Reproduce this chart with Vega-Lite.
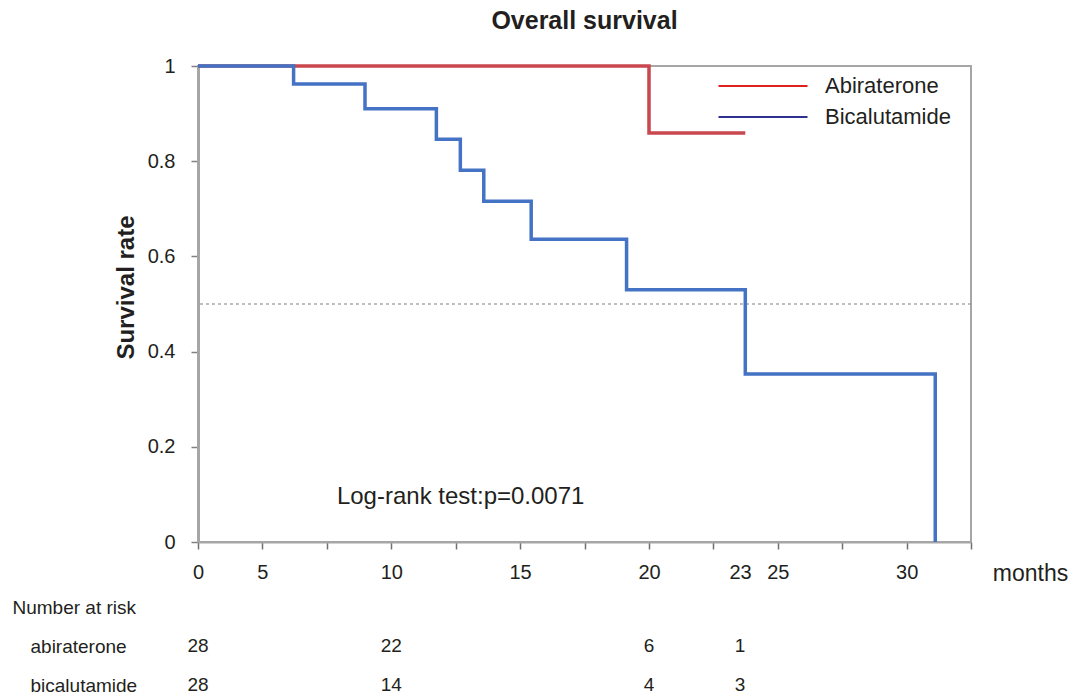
{
  "$schema": "https://vega.github.io/schema/vega-lite/v6.json",
  "background": "white",
  "padding": {"left": 12, "top": 8, "right": 0, "bottom": 0},
  "config": {
    "font": "Liberation Sans",
    "view": {"stroke": "#a6a6a6", "strokeWidth": 2},
    "axis": {"labelFont": "Liberation Sans", "titleFont": "Liberation Sans", "labelColor": "#231f20", "titleColor": "#231f20"}
  },
  "datasets": {
    "km": [
      {"group": "Abiraterone", "month": 0, "survival": 1},
      {"group": "Abiraterone", "month": 20, "survival": 0.859},
      {"group": "Abiraterone", "month": 23.28, "survival": 0.859},
      {"group": "Bicalutamide", "month": 0, "survival": 1},
      {"group": "Bicalutamide", "month": 6.21, "survival": 0.962},
      {"group": "Bicalutamide", "month": 8.98, "survival": 0.91},
      {"group": "Bicalutamide", "month": 11.75, "survival": 0.846},
      {"group": "Bicalutamide", "month": 12.68, "survival": 0.781},
      {"group": "Bicalutamide", "month": 13.59, "survival": 0.716},
      {"group": "Bicalutamide", "month": 15.43, "survival": 0.636},
      {"group": "Bicalutamide", "month": 19.13, "survival": 0.53},
      {"group": "Bicalutamide", "month": 23.28, "survival": 0.353},
      {"group": "Bicalutamide", "month": 31.11, "survival": 0}
    ],
    "risk": [
      {"row": "abiraterone", "month": 0, "n": 28},
      {"row": "abiraterone", "month": 10, "n": 22},
      {"row": "abiraterone", "month": 20, "n": 6},
      {"row": "abiraterone", "month": 23, "n": 1},
      {"row": "bicalutamide", "month": 0, "n": 28},
      {"row": "bicalutamide", "month": 10, "n": 14},
      {"row": "bicalutamide", "month": 20, "n": 4},
      {"row": "bicalutamide", "month": 23, "n": 3}
    ]
  },
  "spacing": 12,
  "resolve": {"scale": {"x": "independent", "color": "independent"}, "legend": {"color": "independent"}},
  "vconcat": [
    {
      "width": 773,
      "height": 476,
      "title": {"text": "Overall survival", "fontSize": 25, "fontWeight": "bold", "color": "#231f20", "anchor": "middle", "offset": 22},
      "layer": [
        {
          "data": {"values": [{}]},
          "mark": {"type": "rule", "color": "#808080", "strokeDash": [3, 3], "strokeWidth": 1},
          "encoding": {"y": {"datum": 0.5, "type": "quantitative"}}
        },
        {
          "data": {"name": "km"},
          "mark": {"type": "line", "interpolate": "step-after", "strokeWidth": 3.5},
          "encoding": {
            "x": {
              "field": "month", "type": "quantitative",
              "scale": {"domain": [0, 5, 10, 15, 20, 23, 25, 30, 32.5], "range": [0, 64.4, 193.3, 322.1, 451, 542, 579.8, 708.7, 773], "nice": false, "zero": false},
              "axis": {
                "values": [0, 5, 7.5, 10, 12.5, 15, 17.5, 20, 22.12, 23, 25, 27.5, 30, 32.5],
                "labelExpr": "indexof([0,5,10,15,20,23,25,30], datum.value) >= 0 ? datum.label : ''",
                "tickOpacity": {"condition": {"test": "datum.value == 23", "value": 0}, "value": 1},
                "grid": false, "domainColor": "#a6a6a6", "domainWidth": 2,
                "tickColor": "#707070", "tickSize": 7, "tickWidth": 1.5,
                "labelFontSize": 20, "labelPadding": 13, "labelOverlap": false, "labelFlush": false, "labelBound": false,
                "title": "months", "titleFontSize": 23, "titleFontWeight": "normal",
                "titleX": 832, "titleY": 31, "titleAlign": "center", "titleBaseline": "middle", "titleAngle": 0
              }
            },
            "y": {
              "field": "survival", "type": "quantitative",
              "scale": {"domain": [0, 1], "nice": false},
              "axis": {
                "values": [0, 0.2, 0.4, 0.6, 0.8, 1], "format": "~g",
                "grid": false, "domainColor": "#a6a6a6", "domainWidth": 3,
                "tickColor": "#808080", "tickSize": 7, "tickWidth": 1.5,
                "labelFontSize": 20, "labelPadding": 16,
                "title": "Survival rate", "titleFontSize": 24, "titleFontWeight": "bold", "titlePadding": 9,
                "titleY": 221, "titleAlign": "center"
              }
            },
            "stroke": {
              "field": "group", "type": "nominal",
              "scale": {"domain": ["Abiraterone", "Bicalutamide"], "range": ["#c9474f", "#4472c4"]},
              "legend": null
            }
          }
        },
        {
          "data": {"name": "km"},
          "mark": {"type": "line", "opacity": 0},
          "encoding": {
            "x": {"field": "month", "type": "quantitative"},
            "y": {"field": "survival", "type": "quantitative"},
            "color": {
              "field": "group", "type": "nominal",
              "scale": {"domain": ["Abiraterone", "Bicalutamide"], "range": ["#e0201c", "#2e3192"]},
              "legend": {
                "orient": "none", "legendX": 549, "legendY": 4, "title": null, "padding": 0,
                "symbolType": "M-3,0H3", "symbolSize": 880, "symbolStrokeWidth": 2, "symbolOpacity": 1,
                "labelFontSize": 22, "labelFont": "Liberation Sans", "labelColor": "#231f20", "labelOffset": 46,
                "rowPadding": 4
              }
            }
          }
        },
        {
          "data": {"values": [{}]},
          "mark": {"type": "text", "text": "Log-rank test:p=0.0071", "align": "left", "baseline": "middle", "fontSize": 24, "font": "Liberation Sans", "color": "#231f20"},
          "encoding": {
            "x": {"datum": 7.89, "type": "quantitative"},
            "y": {"datum": 0.0945, "type": "quantitative"}
          }
        }
      ]
    },
    {
      "width": 773,
      "height": 78,
      "view": {"stroke": null},
      "data": {"name": "risk"},
      "mark": {"type": "text", "fontSize": 19, "font": "Liberation Sans", "color": "#231f20", "baseline": "middle"},
      "encoding": {
        "x": {
          "field": "month", "type": "quantitative",
          "scale": {"domain": [0, 5, 10, 15, 20, 23, 25, 30, 32.5], "range": [0, 64.4, 193.3, 322.1, 451, 542, 579.8, 708.7, 773], "nice": false, "zero": false},
          "axis": null
        },
        "y": {
          "field": "row", "type": "ordinal",
          "scale": {"type": "point", "domain": ["Number at risk", "abiraterone", "bicalutamide"], "padding": 0},
          "axis": {
            "domain": false, "ticks": false, "tickSize": 0, "grid": false, "title": null,
            "labelAlign": "left", "labelFontSize": 19, "labelBaseline": "middle",
            "labelPadding": {"condition": {"test": "datum.value == 'Number at risk'", "value": 186}, "value": 168}
          }
        },
        "text": {"field": "n", "type": "quantitative"}
      }
    }
  ]
}
